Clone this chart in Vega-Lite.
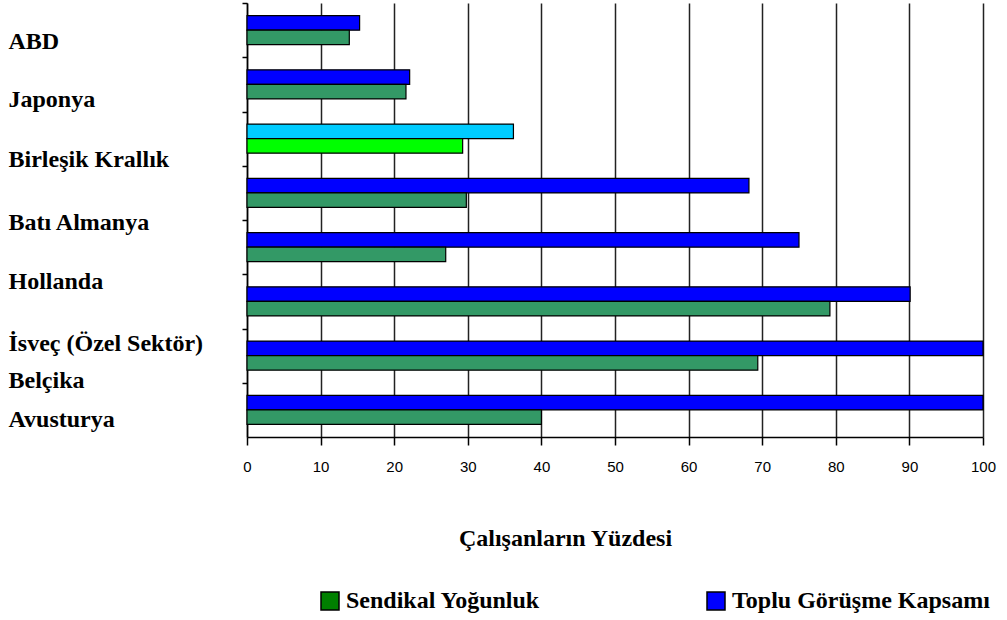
{
  "$schema": "https://vega.github.io/schema/vega-lite/v6.json",
  "width": 736,
  "height": 434,
  "autosize": {"type": "none"},
  "padding": {"left": 247, "top": 3, "right": 24, "bottom": 183},
  "background": "white",
  "config": {"view": {"stroke": null}, "font": "Liberation Serif"},
  "data": {
    "values": [
      {"ulke": "ABD", "seri": "Toplu Görüşme Kapsamı", "yuzde": 15.3},
      {"ulke": "ABD", "seri": "Sendikal Yoğunluk", "yuzde": 13.9},
      {"ulke": "Japonya", "seri": "Toplu Görüşme Kapsamı", "yuzde": 22.1},
      {"ulke": "Japonya", "seri": "Sendikal Yoğunluk", "yuzde": 21.6},
      {"ulke": "Birleşik Krallık", "seri": "Toplu Görüşme Kapsamı", "yuzde": 36.2},
      {"ulke": "Birleşik Krallık", "seri": "Sendikal Yoğunluk", "yuzde": 29.3},
      {"ulke": "Batı Almanya", "seri": "Toplu Görüşme Kapsamı", "yuzde": 68.2},
      {"ulke": "Batı Almanya", "seri": "Sendikal Yoğunluk", "yuzde": 29.8},
      {"ulke": "Hollanda", "seri": "Toplu Görüşme Kapsamı", "yuzde": 75.0},
      {"ulke": "Hollanda", "seri": "Sendikal Yoğunluk", "yuzde": 27.0},
      {"ulke": "İsveç (Özel Sektör)", "seri": "Toplu Görüşme Kapsamı", "yuzde": 90.1},
      {"ulke": "İsveç (Özel Sektör)", "seri": "Sendikal Yoğunluk", "yuzde": 79.2},
      {"ulke": "Belçika", "seri": "Toplu Görüşme Kapsamı", "yuzde": 100},
      {"ulke": "Belçika", "seri": "Sendikal Yoğunluk", "yuzde": 69.4},
      {"ulke": "Avusturya", "seri": "Toplu Görüşme Kapsamı", "yuzde": 100},
      {"ulke": "Avusturya", "seri": "Sendikal Yoğunluk", "yuzde": 40.0}
    ]
  },
  "mark": {"type": "bar", "stroke": "black", "strokeWidth": 1.2},
  "encoding": {
    "y": {
      "field": "ulke",
      "type": "nominal",
      "sort": ["ABD", "Japonya", "Birleşik Krallık", "Batı Almanya", "Hollanda", "İsveç (Özel Sektör)", "Belçika", "Avusturya"],
      "scale": {"paddingInner": 0.465, "paddingOuter": 0.2325},
      "axis": {
        "title": null,
        "bandPosition": 0,
        "tickOffset": -12.6,
        "tickSize": 5,
        "tickColor": "black",
        "tickWidth": 1.5,
        "domainColor": "black",
        "domainWidth": 1.5,
        "grid": false,
        "labelAlign": "left",
        "labelBaseline": "middle",
        "labelPadding": 234,
        "labelFont": "Liberation Serif",
        "labelFontWeight": "bold",
        "labelFontSize": 24,
        "labelColor": "black",
        "labelLimit": 300,
        "labelOverlap": false,
        "labelOffset": {
          "condition": [
            {"test": "datum.value === 'ABD'", "value": 23.5},
            {"test": "datum.value === 'Japonya'", "value": 27.5},
            {"test": "datum.value === 'Birleşik Krallık'", "value": 33.5},
            {"test": "datum.value === 'Batı Almanya'", "value": 41.75},
            {"test": "datum.value === 'Hollanda'", "value": 46.5},
            {"test": "datum.value === 'İsveç (Özel Sektör)'", "value": 54.25},
            {"test": "datum.value === 'Belçika'", "value": 37}
          ],
          "value": 21.75
        }
      }
    },
    "yOffset": {
      "field": "seri",
      "type": "nominal",
      "sort": ["Toplu Görüşme Kapsamı", "Sendikal Yoğunluk"],
      "scale": {"paddingInner": 0, "paddingOuter": 0}
    },
    "x": {
      "field": "yuzde",
      "type": "quantitative",
      "scale": {"domain": [0, 100], "nice": false},
      "axis": {
        "title": "Çalışanların Yüzdesi",
        "values": [0, 10, 20, 30, 40, 50, 60, 70, 80, 90, 100],
        "grid": true,
        "gridColor": "#222222",
        "gridWidth": 1.5,
        "tickSize": 8,
        "tickColor": "black",
        "tickWidth": 1.5,
        "domainColor": "black",
        "domainWidth": 1.5,
        "labelFont": "Liberation Sans Narrow, Liberation Sans",
        "labelFontSize": 15,
        "labelColor": "black",
        "labelPadding": 14,
        "labelFlush": false,
        "labelOverlap": false,
        "titleFont": "Liberation Serif",
        "titleFontSize": 24,
        "titleFontWeight": "bold",
        "titleColor": "black",
        "titleX": 318,
        "titleY": 108,
        "titleAlign": "center",
        "titleBaseline": "alphabetic"
      }
    },
    "fill": {
      "field": "seri",
      "type": "nominal",
      "scale": {"domain": ["Sendikal Yoğunluk", "Toplu Görüşme Kapsamı"], "range": ["#008000", "#0000ff"]},
      "condition": [
        {"test": "datum.ulke === 'Birleşik Krallık' && datum.seri === 'Toplu Görüşme Kapsamı'", "value": "#00ccff"},
        {"test": "datum.ulke === 'Birleşik Krallık'", "value": "#00ff00"},
        {"test": "datum.seri === 'Sendikal Yoğunluk'", "value": "#339966"}
      ],
      "legend": {
        "title": null,
        "orient": "none",
        "legendX": 71,
        "legendY": 586,
        "direction": "horizontal",
        "columns": 2,
        "columnPadding": 163,
        "symbolType": "square",
        "symbolSize": 324,
        "symbolStrokeColor": "black",
        "symbolStrokeWidth": 1.5,
        "symbolOpacity": 1,
        "labelFont": "Liberation Serif",
        "labelFontWeight": "bold",
        "labelFontSize": 24,
        "labelColor": "black",
        "labelOffset": 4,
        "labelLimit": 400
      }
    }
  }
}
